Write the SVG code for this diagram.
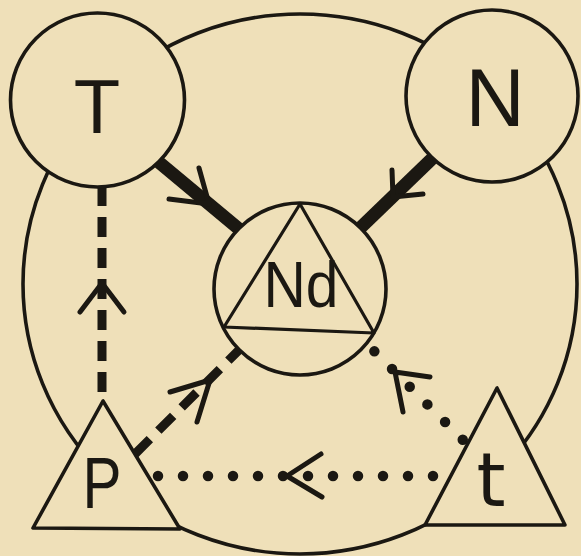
<svg xmlns="http://www.w3.org/2000/svg" width="581" height="556" viewBox="0 0 581 556">
<style>
.ln{fill:none;stroke:#1b1812;stroke-width:3.6}
.node{fill:#efe0b9;stroke:#1b1812;stroke-width:3.6;stroke-linejoin:round}
.inner{fill:none;stroke:#1b1812;stroke-width:3.2;stroke-linejoin:round}
.lbl{font-family:"Liberation Sans",Arial,sans-serif;fill:#1b1812;text-anchor:middle}
.thick{stroke:#1b1812;stroke-width:13;fill:none}
.dash{stroke:#1b1812;stroke-width:9;fill:none;stroke-dasharray:21 12}
.dot{stroke:#1b1812;stroke-width:10.5;fill:none;stroke-linecap:round;stroke-dasharray:0 25}
.head{stroke:#1b1812;stroke-width:5;fill:none;stroke-linecap:round;stroke-linejoin:round}
</style>
<rect width="581" height="556" fill="#efe0b9"/>
<g id="boundary">
<ellipse class="ln" cx="300" cy="284" rx="277" ry="270"/>
</g>
<g id="connectors">
<line class="thick" x1="155" y1="159" x2="245" y2="234"/>
<path class="head" d="M199,168 L209,204 L169,199"/>
<line class="thick" x1="440" y1="151" x2="355" y2="233"/>
<path class="head" d="M392,170 L393,197 L423,194"/>
<line class="dash" x1="102" y1="186" x2="102" y2="402" style="stroke-dasharray:20 11"/>
<path class="head" d="M80,312 L102,283 L124,312"/>
<line class="dash" x1="135" y1="454" x2="240" y2="349"/>
<path class="head" d="M170,392 L210,380 L197,422"/>
<line class="dot" x1="458" y1="476" x2="150" y2="476"/>
<path class="head" d="M321,454 L287,476 L322,497"/>
<line class="dot" x1="467" y1="444" x2="367" y2="344" style="stroke-dashoffset:19"/>
<path class="head" d="M430,377 L395,372 L403,412"/>
</g>
<g id="node-T">
<circle class="node" cx="97.5" cy="100" r="87"/>
<text class="lbl" x="97" y="133" font-size="76">T</text>
</g>
<g id="node-N">
<circle class="node" cx="492" cy="96" r="86"/>
<text class="lbl" x="495" y="126" font-size="82">N</text>
</g>
<g id="node-Nd">
<circle class="node" cx="300" cy="289" r="86"/>
<polygon class="inner" points="300,204 224,327 374,333"/>
<text class="lbl" x="301" y="307" font-size="64" textLength="75" lengthAdjust="spacingAndGlyphs">Nd</text>
</g>
<g id="node-P">
<polygon class="node" points="103,401 33,528 180,529"/>
<text class="lbl" x="102" y="508" font-size="72" textLength="39" lengthAdjust="spacingAndGlyphs">P</text>
</g>
<g id="node-t">
<polygon class="node" points="497,388 425,525 565,525"/>
<text class="lbl" x="491" y="506" font-size="74" style="font-family:'DejaVu Sans',sans-serif">t</text>
</g>
</svg>
